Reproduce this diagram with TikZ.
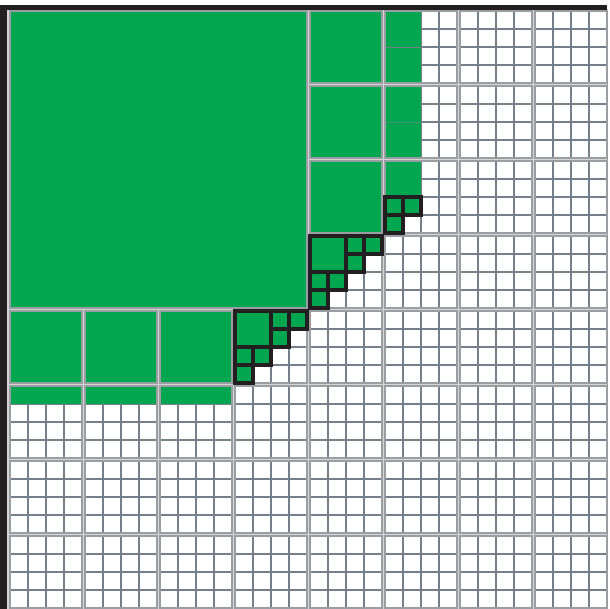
\documentclass[tikz,border=0pt]{standalone}
\definecolor{grn}{HTML}{00A650}
\definecolor{gapgray}{HTML}{D5D5D5}
\definecolor{blockgray}{HTML}{9A9EA3}
\definecolor{cellgray}{HTML}{76808B}
\definecolor{frameblack}{HTML}{231F20}
\tikzset{
  gridln/.style={draw=cellgray, line width=1.4pt},
  blockborder/.style={draw=blockgray, line width=1.6pt},
  greenbox/.style={fill=grn, draw=blockgray, line width=1.6pt},
  blackcell/.style={fill=grn, draw=frameblack, line width=3.6pt},
}
\begin{document}
\begin{tikzpicture}[x=1pt,y=-1pt]
\useasboundingbox (0,0) rectangle (610,609);
\fill[white] (0,0) rectangle (610,609);
\fill[gapgray] (7,9) rectangle (608,609);
% frame
\fill[frameblack] (0,5) rectangle (7,609);
\fill[frameblack] (0,5) rectangle (607,10);
\draw[blockgray, line width=1pt] (607.5,10) -- (607.5,609);
% white blocks with cell grid
\foreach \i in {0,...,7} {
  \foreach \j in {0,...,7} {
    \begin{scope}[shift={(10+75*\j,11+75*\i)}]
      \fill[white] (0,0) rectangle (72,72);
      \foreach \k in {18,36,54} {
        \draw[gridln] (\k,0) -- (\k,72);
        \draw[gridln] (0,\k) -- (72,\k);
      }
    \end{scope}
  }
}
% partial green fills
\fill[grn] (385,11) rectangle ++(36,72);
\draw[cellgray, line width=0.9pt] (385,47) -- (421,47);
\fill[grn] (385,86) rectangle ++(36,72);
\draw[cellgray!60!grn, line width=0.7pt] (385,122) -- (421,122);
\fill[grn] (385,161) rectangle ++(36,36);
\foreach \j in {0,1,2} {
  \fill[grn] (10+75*\j,386) rectangle ++(72,18);
}
% block borders
\foreach \i in {0,...,7} {
  \foreach \j in {0,...,7} {
    \draw[blockborder] (10+75*\j,11+75*\i) rectangle ++(72,72);
  }
}
% big green square and full green blocks
\draw[greenbox] (10,11) rectangle (307,308);
\foreach \i/\j in {0/4,1/4,2/4,4/0,4/1,4/2} {
  \draw[greenbox] (10+75*\j,11+75*\i) rectangle ++(72,72);
}
% staircase blocks with black-bordered pieces
\foreach \i/\j in {3/4,4/3} {
  \begin{scope}[shift={(10+75*\j,11+75*\i)}]
    \draw[blackcell] (0,0) rectangle (36,36);
    \foreach \r/\c in {0/2,0/3,1/2,2/0,2/1,3/0} {
      \draw[blackcell] (18*\c,18*\r) rectangle ++(18,18);
    }
  \end{scope}
}
\begin{scope}[shift={(385,161)}]
  \foreach \r/\c in {2/0,2/1,3/0} {
    \draw[blackcell] (18*\c,18*\r) rectangle ++(18,18);
  }
\end{scope}
\end{tikzpicture}
\end{document}
